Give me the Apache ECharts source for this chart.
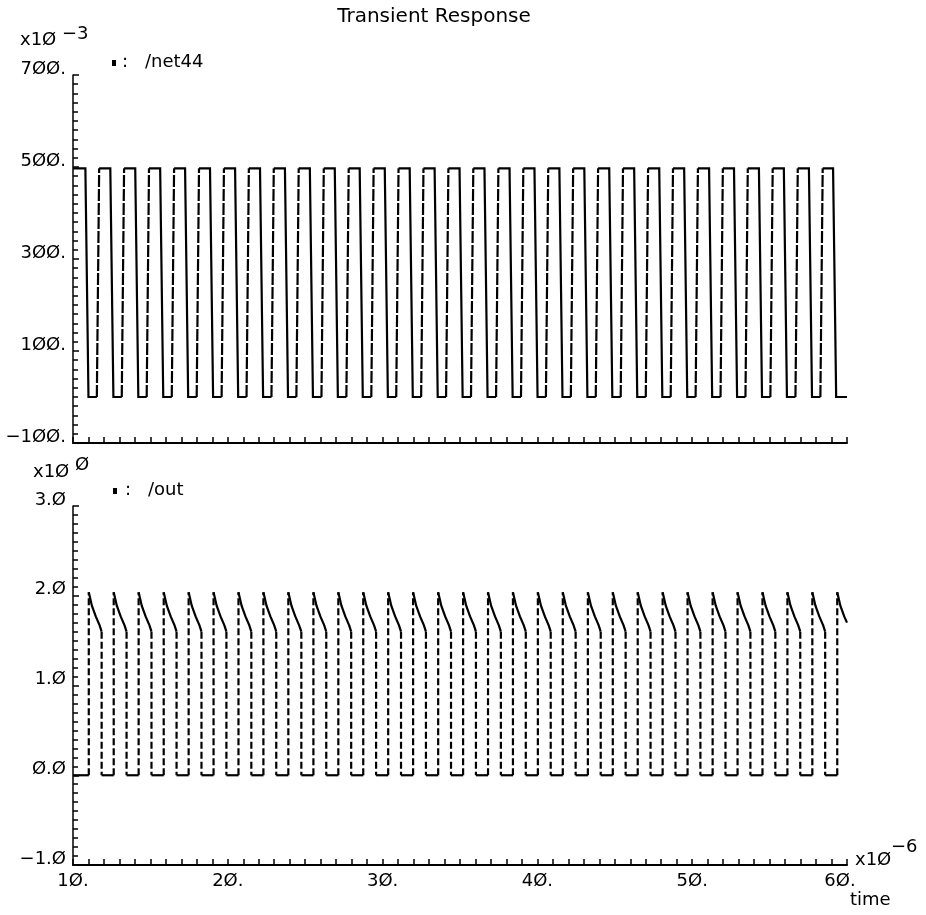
<!DOCTYPE html>
<html>
<head>
<meta charset="utf-8">
<title>Transient Response</title>
<script src="https://cdn.jsdelivr.net/npm/echarts@6/dist/echarts.min.js"></script>
<style>
  html, body { margin: 0; padding: 0; background: #fff; }
  #chart { width: 926px; height: 915px; }
</style>
</head>
<body>
<div id="chart"></div>
<script>
// time axis (microseconds) and its tick labels
const timeTicks = [10, 20, 30, 40, 50, 60];
const timeTickLabels = ['1Ø.', '2Ø.', '3Ø.', '4Ø.', '5Ø.', '6Ø.'];

// /net44 axis (millivolts)
const netTicks = [-100, 100, 300, 500, 700];
const netTickLabels = ['−1ØØ.', '1ØØ.', '3ØØ.', '5ØØ.', '7ØØ.'];

// /out axis (volts)
const outTicks = [-1, 0, 1, 2, 3];
const outTickLabels = ['−1.Ø', 'Ø.Ø', '1.Ø', '2.Ø', '3.Ø'];

// /net44 waveform: [time (us), value (mV)]
const net44 = [
  [10.00, 497],
  [10.80, 497], [11.00, 0], [11.54, 0], [11.69, 497],
  [12.41, 497], [12.61, 0], [13.15, 0], [13.30, 497],
  [14.02, 497], [14.22, 0], [14.76, 0], [14.91, 497],
  [15.63, 497], [15.83, 0], [16.38, 0], [16.53, 497],
  [17.24, 497], [17.44, 0], [17.99, 0], [18.14, 497],
  [18.85, 497], [19.05, 0], [19.60, 0], [19.75, 497],
  [20.47, 497], [20.67, 0], [21.21, 0], [21.36, 497],
  [22.08, 497], [22.28, 0], [22.82, 0], [22.97, 497],
  [23.69, 497], [23.89, 0], [24.43, 0], [24.58, 497],
  [25.30, 497], [25.50, 0], [26.05, 0], [26.20, 497],
  [26.91, 497], [27.11, 0], [27.66, 0], [27.81, 497],
  [28.52, 497], [28.72, 0], [29.27, 0], [29.42, 497],
  [30.14, 497], [30.34, 0], [30.88, 0], [31.03, 497],
  [31.75, 497], [31.95, 0], [32.49, 0], [32.64, 497],
  [33.36, 497], [33.56, 0], [34.10, 0], [34.25, 497],
  [34.97, 497], [35.17, 0], [35.71, 0], [35.86, 497],
  [36.58, 497], [36.78, 0], [37.33, 0], [37.48, 497],
  [38.20, 497], [38.40, 0], [38.94, 0], [39.09, 497],
  [39.81, 497], [40.01, 0], [40.55, 0], [40.70, 497],
  [41.42, 497], [41.62, 0], [42.16, 0], [42.31, 497],
  [43.03, 497], [43.23, 0], [43.77, 0], [43.92, 497],
  [44.64, 497], [44.84, 0], [45.38, 0], [45.53, 497],
  [46.25, 497], [46.45, 0], [47.00, 0], [47.15, 497],
  [47.87, 497], [48.07, 0], [48.61, 0], [48.76, 497],
  [49.48, 497], [49.68, 0], [50.22, 0], [50.37, 497],
  [51.09, 497], [51.29, 0], [51.83, 0], [51.98, 497],
  [52.70, 497], [52.90, 0], [53.44, 0], [53.59, 497],
  [54.31, 497], [54.51, 0], [55.05, 0], [55.20, 497],
  [55.92, 497], [56.12, 0], [56.67, 0], [56.82, 497],
  [57.54, 497], [57.74, 0], [58.28, 0], [58.43, 497],
  [59.10, 497], [59.30, 0], [60.00, 0]
];

// /out waveform: [time (us), value (V)]
const out = [
  [10.00, 0],
  [11.02, 0], [11.02, 2.04], [11.22, 1.89], [11.47, 1.77], [11.72, 1.67], [11.85, 1.60], [11.85, 0],
  [12.63, 0], [12.63, 2.04], [12.83, 1.89], [13.08, 1.77], [13.33, 1.67], [13.46, 1.60], [13.46, 0],
  [14.24, 0], [14.24, 2.04], [14.44, 1.89], [14.69, 1.77], [14.94, 1.67], [15.07, 1.60], [15.07, 0],
  [15.86, 0], [15.86, 2.04], [16.06, 1.89], [16.31, 1.77], [16.56, 1.67], [16.69, 1.60], [16.69, 0],
  [17.47, 0], [17.47, 2.04], [17.67, 1.89], [17.92, 1.77], [18.17, 1.67], [18.30, 1.60], [18.30, 0],
  [19.08, 0], [19.08, 2.04], [19.28, 1.89], [19.53, 1.77], [19.78, 1.67], [19.91, 1.60], [19.91, 0],
  [20.69, 0], [20.69, 2.04], [20.89, 1.89], [21.14, 1.77], [21.39, 1.67], [21.52, 1.60], [21.52, 0],
  [22.30, 0], [22.30, 2.04], [22.50, 1.89], [22.75, 1.77], [23.00, 1.67], [23.13, 1.60], [23.13, 0],
  [23.91, 0], [23.91, 2.04], [24.11, 1.89], [24.36, 1.77], [24.61, 1.67], [24.75, 1.60], [24.75, 0],
  [25.53, 0], [25.53, 2.04], [25.73, 1.89], [25.98, 1.77], [26.23, 1.67], [26.36, 1.60], [26.36, 0],
  [27.14, 0], [27.14, 2.04], [27.34, 1.89], [27.59, 1.77], [27.84, 1.67], [27.97, 1.60], [27.97, 0],
  [28.75, 0], [28.75, 2.04], [28.95, 1.89], [29.20, 1.77], [29.45, 1.67], [29.58, 1.60], [29.58, 0],
  [30.36, 0], [30.36, 2.04], [30.56, 1.89], [30.81, 1.77], [31.06, 1.67], [31.19, 1.60], [31.19, 0],
  [31.97, 0], [31.97, 2.04], [32.17, 1.89], [32.42, 1.77], [32.67, 1.67], [32.80, 1.60], [32.80, 0],
  [33.59, 0], [33.59, 2.04], [33.79, 1.89], [34.04, 1.77], [34.29, 1.67], [34.42, 1.60], [34.42, 0],
  [35.20, 0], [35.20, 2.04], [35.40, 1.89], [35.65, 1.77], [35.90, 1.67], [36.03, 1.60], [36.03, 0],
  [36.81, 0], [36.81, 2.04], [37.01, 1.89], [37.26, 1.77], [37.51, 1.67], [37.64, 1.60], [37.64, 0],
  [38.42, 0], [38.42, 2.04], [38.62, 1.89], [38.87, 1.77], [39.12, 1.67], [39.25, 1.60], [39.25, 0],
  [40.03, 0], [40.03, 2.04], [40.23, 1.89], [40.48, 1.77], [40.73, 1.67], [40.86, 1.60], [40.86, 0],
  [41.64, 0], [41.64, 2.04], [41.84, 1.89], [42.09, 1.77], [42.34, 1.67], [42.47, 1.60], [42.47, 0],
  [43.26, 0], [43.26, 2.04], [43.46, 1.89], [43.71, 1.77], [43.96, 1.67], [44.09, 1.60], [44.09, 0],
  [44.87, 0], [44.87, 2.04], [45.07, 1.89], [45.32, 1.77], [45.57, 1.67], [45.70, 1.60], [45.70, 0],
  [46.48, 0], [46.48, 2.04], [46.68, 1.89], [46.93, 1.77], [47.18, 1.67], [47.31, 1.60], [47.31, 0],
  [48.09, 0], [48.09, 2.04], [48.29, 1.89], [48.54, 1.77], [48.79, 1.67], [48.92, 1.60], [48.92, 0],
  [49.70, 0], [49.70, 2.04], [49.90, 1.89], [50.15, 1.77], [50.40, 1.67], [50.53, 1.60], [50.53, 0],
  [51.32, 0], [51.32, 2.04], [51.52, 1.89], [51.77, 1.77], [52.02, 1.67], [52.15, 1.60], [52.15, 0],
  [52.93, 0], [52.93, 2.04], [53.13, 1.89], [53.38, 1.77], [53.63, 1.67], [53.76, 1.60], [53.76, 0],
  [54.54, 0], [54.54, 2.04], [54.74, 1.89], [54.99, 1.77], [55.24, 1.67], [55.37, 1.60], [55.37, 0],
  [56.15, 0], [56.15, 2.04], [56.35, 1.89], [56.60, 1.77], [56.85, 1.67], [56.98, 1.60], [56.98, 0],
  [57.76, 0], [57.76, 2.04], [57.96, 1.89], [58.21, 1.77], [58.46, 1.67], [58.59, 1.60], [58.59, 0],
  [59.37, 0], [59.37, 2.04], [59.57, 1.89], [59.82, 1.77], [60.00, 1.70]
];

const FONT = '"DejaVu Sans", sans-serif';
const INK = '#000';

// Split a trace into solid polylines and separate edge segments drawn with a dash pattern.
function splitTrace(points, isEdge) {
  const solid = [];
  const edges = [];
  let cur = [points[0]];
  for (let i = 1; i < points.length; i++) {
    const a = points[i - 1], b = points[i];
    if (isEdge(a, b)) {
      if (cur.length > 1) solid.push({ coords: cur });
      edges.push({ coords: [a, b] });
      cur = [b];
    } else {
      cur.push(b);
    }
  }
  if (cur.length > 1) solid.push({ coords: cur });
  return { solid, edges };
}

const netParts = splitTrace(net44, (a, b) => b[1] - a[1] > 200);
const outParts = splitTrace(out, (a, b) => Math.abs(b[1] - a[1]) > 1);

function labelFrom(values, labels) {
  return function (v) {
    for (let i = 0; i < values.length; i++) {
      if (Math.abs(values[i] - v) < 1e-6) return labels[i];
    }
    return '';
  };
}

const axisText = { color: INK, fontFamily: FONT, fontSize: 18 };

function timeAxis(gridIndex, showLabels) {
  return {
    type: 'value', gridIndex: gridIndex, min: 10, max: 60, interval: 10,
    axisLine: { show: true, onZero: false, lineStyle: { color: INK, width: 2 } },
    axisTick: { show: true, inside: true, length: 6, lineStyle: { color: INK, width: 1.5 } },
    minorTick: { show: true, splitNumber: 10, length: 6, lineStyle: { color: INK, width: 1.5 } },
    splitLine: { show: false },
    minorSplitLine: { show: false },
    axisLabel: showLabels ? Object.assign({}, axisText, {
      margin: 7, lineHeight: 18,
      formatter: function (v) {
        const s = labelFrom(timeTicks, timeTickLabels)(v);
        return v === 60 ? '{end|' + s + '}' : s;
      },
      rich: { end: { padding: [0, 14, 0, 0], fontSize: 18, fontFamily: FONT, color: INK } }
    }) : { show: false }
  };
}

function valueAxis(gridIndex, min, max, interval, ticks, labels) {
  return {
    type: 'value', gridIndex: gridIndex, min: min, max: max, interval: interval,
    axisLine: { show: true, onZero: false, lineStyle: { color: INK, width: 1.5 } },
    axisTick: { show: true, inside: true, length: 6, lineStyle: { color: INK, width: 1.5 } },
    minorTick: { show: true, splitNumber: 10, length: 5, lineStyle: { color: INK, width: 1.5 } },
    splitLine: { show: false },
    minorSplitLine: { show: false },
    axisLabel: Object.assign({}, axisText, {
      margin: 7, verticalAlign: 'bottom', lineHeight: 12,
      formatter: labelFrom(ticks, labels)
    })
  };
}

function linesSeries(data, axisIdx, type, width) {
  return {
    type: 'lines', coordinateSystem: 'cartesian2d',
    xAxisIndex: axisIdx, yAxisIndex: axisIdx,
    polyline: true, silent: true, animation: false,
    lineStyle: { color: INK, width: width, opacity: 1, type: type, curveness: 0 },
    data: data
  };
}

function text(str, x, y, extra) {
  return {
    type: 'text', silent: true,
    style: Object.assign({
      text: str, x: x, y: y, fill: INK,
      font: '18px ' + FONT,
      textVerticalAlign: 'top', verticalAlign: 'top'
    }, extra || {})
  };
}

const chart = echarts.init(document.getElementById('chart'), null, { renderer: 'canvas' });

chart.setOption({
  backgroundColor: '#fff',
  animation: false,
  grid: [
    { left: 73, top: 75, width: 774, height: 368 },
    { left: 73, top: 506, width: 774, height: 359 }
  ],
  xAxis: [timeAxis(0, false), timeAxis(1, true)],
  yAxis: [
    valueAxis(0, -100, 700, 200, netTicks, netTickLabels),
    valueAxis(1, -1, 3, 1, outTicks, outTickLabels)
  ],
  series: [
    linesSeries(netParts.solid, 0, 'solid', 2.2),
    linesSeries(netParts.edges, 0, [12, 2], 2.2),
    linesSeries(outParts.solid, 1, 'solid', 2.2),
    linesSeries(outParts.edges, 1, [7, 3], 2.2)
  ],
  graphic: [
    text('Transient Response', 434, 7, { font: '20px ' + FONT, textAlign: 'center', align: 'center' }),
    // scale factor of the /net44 axis
    text('x1Ø', 20, 31),
    text('−3', 62, 25),
    // trace name of the upper panel
    { type: 'rect', silent: true, shape: { x: 112, y: 60, width: 4, height: 6 }, style: { fill: INK } },
    text(':', 122, 53),
    text('/net44', 145, 53),
    // scale factor of the /out axis
    text('x1Ø', 33, 463),
    text('Ø', 75, 456),
    // trace name of the lower panel
    { type: 'rect', silent: true, shape: { x: 113, y: 488, width: 4, height: 6 }, style: { fill: INK } },
    text(':', 125, 481),
    text('/out', 148, 481),
    // time axis scale and name
    text('x1Ø', 855, 851),
    text('−6', 891, 838),
    text('time', 850, 891)
  ]
});
</script>
</body>
</html>
